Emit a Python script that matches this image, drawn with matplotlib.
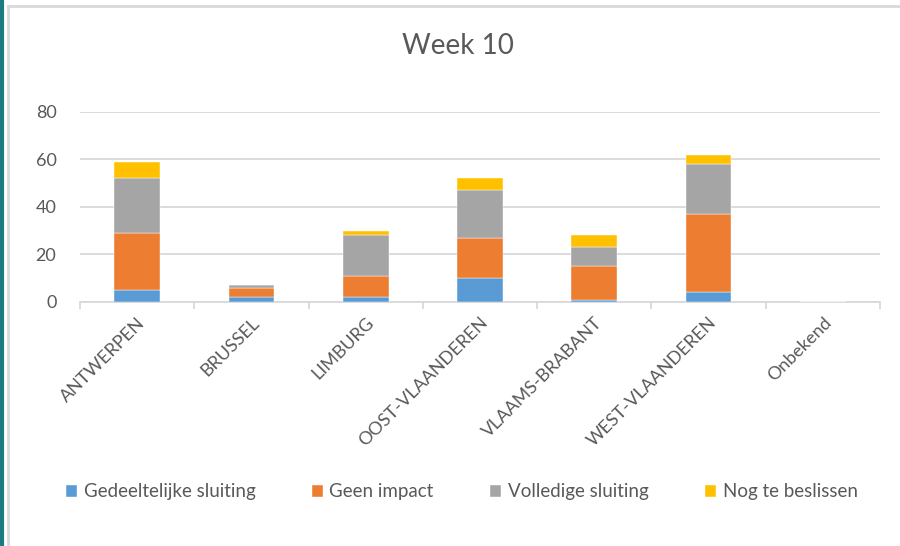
import numpy as np
import matplotlib.pyplot as plt
from matplotlib.lines import Line2D

# =========================
# Data
# =========================

provinces = ["ANTWERPEN", "BRUSSEL", "LIMBURG", "OOST-VLAANDEREN",
             "VLAAMS-BRABANT", "WEST-VLAANDEREN", "Onbekend"]

series_names = ["Gedeeltelijke sluiting", "Geen impact",
                "Volledige sluiting", "Nog te beslissen"]

gedeeltelijk = [5, 2, 2, 10, 1, 4, 0]
geen_impact = [24, 4, 9, 17, 14, 33, 0]
volledig = [23, 1, 17, 20, 8, 21, 0]
nog_beslissen = [7, 0, 2, 5, 5, 4, 0]

colors = ["#5b9bd5", "#ed7d31", "#a5a5a5", "#ffc000"]
text_color = "#595959"
grid_color = "#d9d9d9"

plt.rcParams["font.family"] = ["Lato", "DejaVu Sans"]

# =========================
# Figure
# =========================

fig = plt.figure(figsize=(9, 5.46), dpi=100)

# frame of the screenshot
fig.add_artist(Line2D([0.002, 0.002], [0, 1], color="#1f7a80", lw=3,
                      transform=fig.transFigure))
fig.add_artist(Line2D([0.009, 0.009], [0, 0.989], color="#d9d9d9", lw=2,
                      transform=fig.transFigure))
fig.add_artist(Line2D([0.009, 1], [0.989, 0.989], color="#d9d9d9", lw=2,
                      transform=fig.transFigure))

ax = fig.add_axes([0.0889, 0.4469, 0.8889, 0.348])

x = np.arange(len(provinces))
bottom = np.zeros(len(provinces))
handles = []
for name, values, color in zip(series_names,
                               [gedeeltelijk, geen_impact, volledig, nog_beslissen],
                               colors):
    bars = ax.bar(x, values, 0.4, bottom=bottom, color=color, label=name,
                  edgecolor="white", linewidth=0.3, zorder=3)
    handles.append(bars)
    bottom += np.array(values)

ax.set_xlim(-0.5, len(provinces) - 0.5)
ax.set_ylim(0, 80)
ax.set_yticks([0, 20, 40, 60, 80])
ax.yaxis.grid(True, color=grid_color, lw=1.3, zorder=0)

for side in ["top", "right", "left"]:
    ax.spines[side].set_visible(False)
ax.spines["bottom"].set_color(grid_color)
ax.spines["bottom"].set_linewidth(1.3)

ax.set_xticks(np.arange(len(provinces) + 1) - 0.5, minor=True)
ax.set_xticks(x)
ax.set_xticklabels(provinces, rotation=45, ha="right", rotation_mode="anchor",
                   fontsize=13, color=text_color)
ax.tick_params(axis="x", which="major", length=0, pad=9)
ax.tick_params(axis="x", which="minor", length=5, color=grid_color, width=1.3)
ax.tick_params(axis="y", length=0, labelsize=13, labelcolor=text_color, pad=17)

fig.text(0.509, 0.915, "Week 10", ha="center", va="center",
         fontsize=20, color=text_color)

fig.legend(handles=handles, loc="center", bbox_to_anchor=(0.513, 0.099),
           ncol=4, frameon=False, fontsize=13.5, labelcolor=text_color,
           handlelength=0.6, handleheight=0.6, handletextpad=0.35,
           columnspacing=3.0)

plt.savefig("out.png", dpi=100)
plt.close()
